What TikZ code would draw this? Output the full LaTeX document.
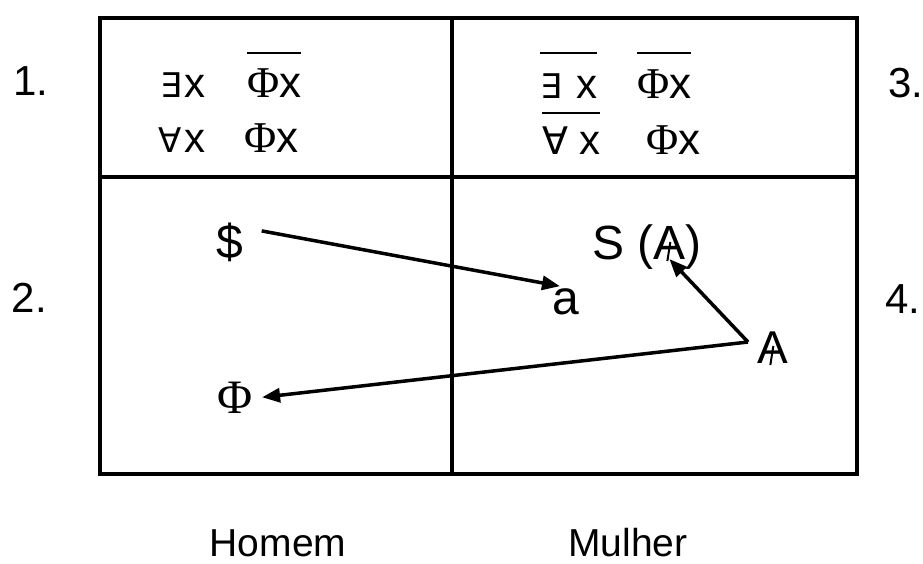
\documentclass[tikz,border=0pt]{standalone}
\usepackage{fontspec}
\setmainfont{Liberation Sans}
\newfontfamily\grkfont{Liberation Serif}
\newfontfamily\symfont{DejaVu Sans}
\usetikzlibrary{arrows.meta}
\newcommand\fs[1]{\fontsize{#1}{#1}\selectfont}
\begin{document}
\begin{tikzpicture}[x=1pt,y=-1pt,
  txt/.style={inner sep=0pt,outer sep=0pt,anchor=base west},
  frame/.style={line width=3.5pt},
  ovl/.style={line width=2.8pt},
  arr/.style={line width=3.5pt,-{Triangle[length=18pt,width=14pt]}}]
\useasboundingbox (0,0) rectangle (923,563);

% frame
\draw[frame] (100,18) rectangle (857,474);
\draw[frame] (452,18) -- (452,474);
\draw[frame] (100,177) -- (857,177);

% numbers
\node[txt,font=\fs{42}] (n1) at (13,95) {1.};
\node[txt,font=\fs{42}] (n2) at (12,312) {2.};
\node[txt,font=\fs{42}] (n3) at (888,97) {3.};
\node[txt,font=\fs{42}] (n4) at (885,313) {4.};

% top left formulas
\node[txt,font=\symfont\fs{34}] (qL1) at (160,97) {∃};
\node[txt,font=\fs{42}] (xL1) at (184,97) {x};
\node[txt,font=\fs{44}] (fL1) at (247,97) {{\grkfont Φ}x};
\draw[ovl] ([yshift=44pt]fL1.base west) -- ([yshift=44pt]fL1.base east);
\node[txt,font=\symfont\fs{34}] (qL2) at (158,152) {∀};
\node[txt,font=\fs{42}] (xL2) at (184,152) {x};
\node[txt,font=\fs{44}] (fL2) at (244,152) {{\grkfont Φ}x};

% top right formulas
\node[txt,font=\symfont\fs{34}] (qR1) at (540,98) {∃};
\node[txt,font=\fs{42}] (xR1) at (576,98) {x};
\draw[ovl] ([yshift=45pt]qR1.base west) -- ([yshift=45pt]xR1.base east);
\node[txt,font=\fs{44}] (fR1) at (637,98) {{\grkfont Φ}x};
\draw[ovl] ([yshift=45pt]fR1.base west) -- ([yshift=45pt]fR1.base east);
\node[txt,font=\symfont\fs{38}] (qR2) at (542,154) {∀};
\node[txt,font=\fs{42}] (xR2) at (579,154) {x};
\draw[ovl] ([yshift=41pt]qR2.base west) -- ([yshift=41pt]xR2.base east);
\node[txt,font=\fs{44}] (fR2) at (646,154) {{\grkfont Φ}x};

% bottom left
\node[txt,font=\fs{48}] (dollar) at (216,258) {\$};
\node[txt,font=\grkfont\fs{48}] (phi) at (217,413) {Φ};

% bottom right
\node[txt,font=\fs{48}] (a) at (552,314) {a};
\node[txt,font=\fs{48}] (S) at (592,259) {S (};
\node[txt,font=\fs{48}] (Ain) at (S.base east) {A};
\node[txt,font=\fs{48}] (rp) at (Ain.base east) {)};
\draw[line width=2pt] ([xshift=-2pt,yshift=-2pt]Ain.south) -- ([xshift=1pt,yshift=17pt]Ain.south);
\node[txt,font=\fs{46}] (Abig) at (757,363) {A};
\draw[line width=2pt] ([xshift=-2pt,yshift=-2pt]Abig.south) -- ([xshift=1pt,yshift=17pt]Abig.south);
\coordinate (Astart) at ([xshift=-9pt,yshift=21pt]Abig.base west);

% arrows
\draw[arr] ([xshift=19pt,yshift=11pt]dollar.east) -- ([xshift=8pt,yshift=2pt]a.north west);
\draw[arr] (Astart) -- (Ain.south);
\draw[arr] (Astart) -- ([xshift=10pt]phi.east);

% bottom labels
\node[font=\fs{39},inner sep=0pt,anchor=base] (homem) at (278,556) {Homem};
\node[font=\fs{39},inner sep=0pt,anchor=base] (mulher) at (628,556) {Mulher};
\end{tikzpicture}
\end{document}
